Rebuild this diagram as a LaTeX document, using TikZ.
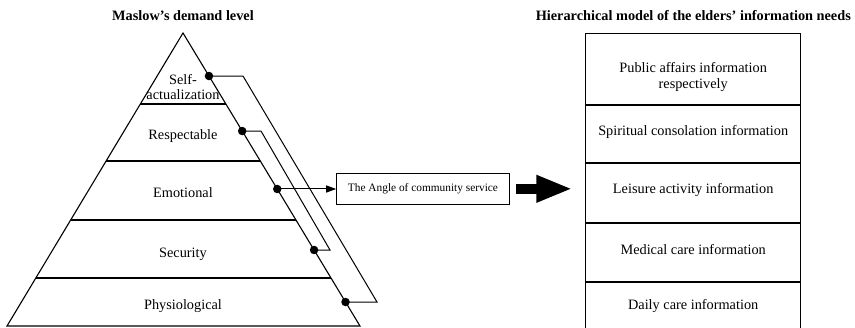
\documentclass[tikz,border=0pt]{standalone}
\usepackage{fontspec}
\setmainfont{Liberation Serif}
\usetikzlibrary{calc,arrows.meta}
\begin{document}
\begin{tikzpicture}[x=1pt,y=-1pt,
  lbl/.style={font=\fontsize{14.3}{15.5}\selectfont, inner sep=0pt, align=center},
  ttl/.style={font=\fontsize{14.3}{16}\selectfont\bfseries, inner sep=0pt},
  dotn/.style={circle, fill=black, minimum size=8.5pt, inner sep=0pt},
  thin line/.style={line width=1.1pt},
  cell/.style={draw, line width=1.1pt, minimum width=215pt, inner sep=0pt}]
\useasboundingbox (0,0) rectangle (855,327);
% titles
\node[ttl] (t1) at (183,15.5) {Maslow\char"27 s demand level};
\node[ttl] (t2) at (693.3,15.5) {Hierarchical model of the elders’ information needs};
% pyramid
\coordinate (apex) at (183,33);
\coordinate (bl) at (7,326);
\coordinate (br) at (360,326);
\draw[thin line, line join=miter] (apex) -- (bl) -- (br) -- cycle;
\foreach \f/\n in {0.2423/a,0.4369/b,0.6382/c,0.8362/d}{
  \draw[thin line] ($(apex)!\f!(bl)$) coordinate (L\n) -- ($(apex)!\f!(br)$) coordinate (R\n);
}
\node[lbl] (self) at (183,86.8) {Self-\\actualization};
\node[lbl] (resp) at (183,136) {Respectable};
\node[lbl] (emo) at (183,192.5) {Emotional};
\node[lbl] (sec) at (183,254) {Security};
\node[lbl] (phy) at (183,306.5) {Physiological};
% dots on right edge
\node[dotn] (dS) at ($(apex)!0.1468!(br)$) {};
\node[dotn] (dR) at ($(apex)!0.3345!(br)$) {};
\node[dotn] (dE) at ($(apex)!0.5324!(br)$) {};
\node[dotn] (dSe) at ($(apex)!0.7406!(br)$) {};
\node[dotn] (dP) at ($(apex)!0.9181!(br)$) {};
% loops
\coordinate (o1) at (243,76);
\coordinate (o2) at (377,302);
\coordinate (i1) at (261,131);
\coordinate (i2) at (330,250);
\draw[line width=1pt, line join=miter] (dS.center) -- (o1) -- (o2) -- (dP.center);
\draw[line width=1pt, line join=miter] (dR.center) -- (i1) -- (i2) -- (dSe.center);
% angle box
\node[draw, line width=1pt, minimum width=172.6pt, minimum height=31pt, inner sep=0pt,
      font=\fontsize{11.35}{13}\selectfont] (ang) at (423,188.8) {The Angle of community service};
\draw[line width=1pt, -{Triangle[length=10pt,width=7pt]}] (dE.center) -- (dE.center -| ang.west);
% right panel
\node[cell, minimum height=71pt] (r1) at (693.2,68.8) {};
\node[cell, minimum height=56.7pt, anchor=north] (r2) at (r1.south) {};
\node[cell, minimum height=59pt, anchor=north] (r3) at (r2.south) {};
\node[cell, minimum height=58.3pt, anchor=north] (r4) at (r3.south) {};
\node[cell, minimum height=47.4pt, anchor=north] (r5) at (r4.south) {};
\node[lbl] (p1) at (693.2,77) {Public affairs information\\respectively};
\node[lbl] (p2) at (693.2,131.7) {Spiritual consolation information};
\node[lbl] (p3) at (693.2,190) {Leisure activity information};
\node[lbl] (p4) at (693.2,250) {Medical care information};
\node[lbl] (p5) at (693.2,306.5) {Daily care information};
% big arrow
\draw[line width=10pt, -{Triangle[length=36pt,width=25pt]}] ([xshift=5.7pt]ang.east) -- ([xshift=-12.7pt]ang.east -| r3.west);
\end{tikzpicture}
\end{document}
